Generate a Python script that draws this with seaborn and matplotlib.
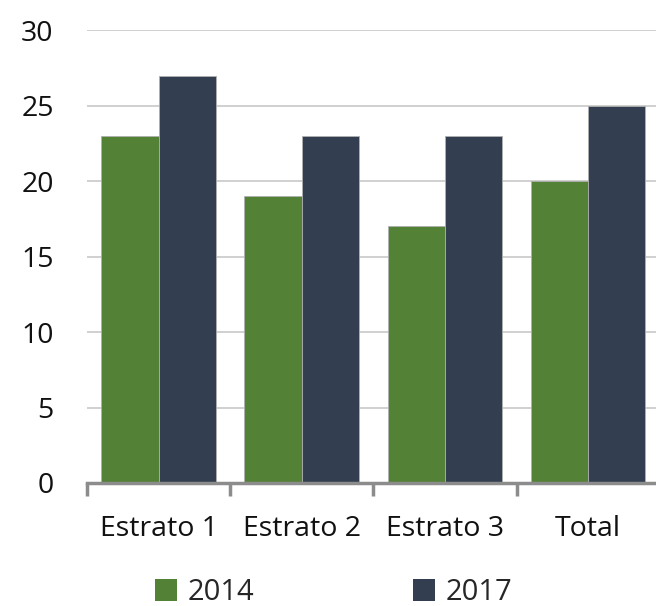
import pandas as pd
import seaborn as sns
import matplotlib.pyplot as plt
from matplotlib.patches import Patch

categories = ['Estrato 1', 'Estrato 2', 'Estrato 3', 'Total']
years = ['2014', '2017']
values_2014 = [23, 19, 17, 20]
values_2017 = [27, 23, 23, 25]
colors = ['#538135', '#333F50']

df = pd.DataFrame({
    'categoria': categories * 2,
    'ano': [years[0]] * 4 + [years[1]] * 4,
    'valor': values_2014 + values_2017,
})

sns.set_theme(style='white')
plt.rcParams['font.family'] = ['Open Sans', 'DejaVu Sans']

fig = plt.figure(figsize=(6.56, 6.06), dpi=100)
ax = fig.add_axes([0.1326, 0.203, 0.873, 0.747])

sns.barplot(data=df, x='categoria', y='valor', hue='ano', palette=colors,
            saturation=1, width=0.8, edgecolor='#b0b0b0', linewidth=0.6,
            ax=ax, legend=False)

ax.set_ylim(0, 30)
ax.set_xlim(-0.5, 3.5)
ax.set_yticks(range(0, 31, 5))
ax.yaxis.grid(True, color='#c8c8c8', linewidth=1.2)
ax.set_axisbelow(True)
for s in ['top', 'right', 'left']:
    ax.spines[s].set_visible(False)
ax.spines['bottom'].set_color('#8c8c8c')
ax.spines['bottom'].set_linewidth(2.5)
ax.set_xticks([-0.5, 0.5, 1.5, 2.5, 3.5], minor=True)
ax.tick_params(axis='x', which='minor', length=9, width=2.5, color='#8c8c8c',
               direction='out', bottom=True)
ax.tick_params(axis='x', which='major', length=0, pad=23, labelsize=20.5,
               labelcolor='#111111')
ax.tick_params(axis='y', length=0, pad=24, labelsize=20.5, labelcolor='#111111')
ax.set_xlabel('')
ax.set_ylabel('')

handles = [Patch(facecolor=c, edgecolor='none') for c in colors]
fig.legend(handles, years, loc='lower left', bbox_to_anchor=(0.197, -0.045),
           ncol=2, frameon=False, fontsize=21, handlelength=0.75,
           handleheight=0.75, handletextpad=0.35, columnspacing=5.45)

fig.savefig('out.png', dpi=100)
